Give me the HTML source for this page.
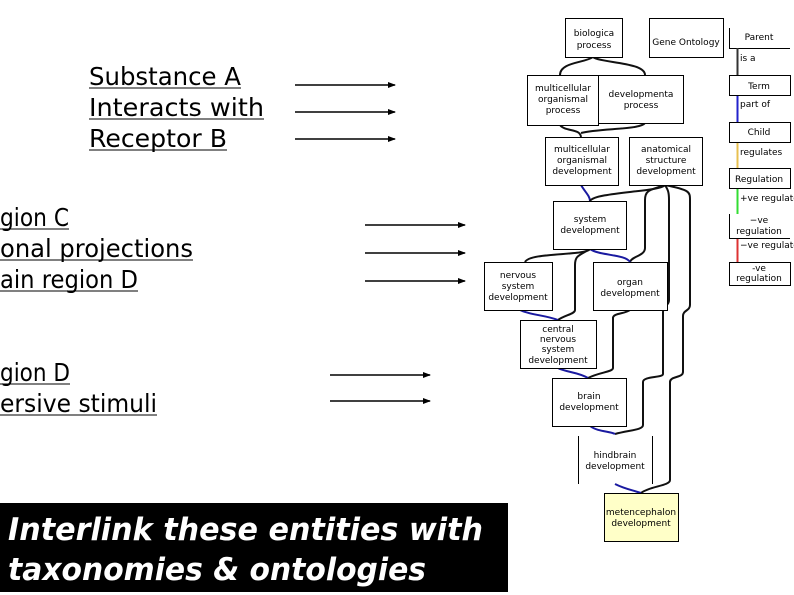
<!DOCTYPE html>
<html><head><meta charset="utf-8"><style>
html,body{margin:0;padding:0;background:#fff;}
svg{display:block;}
.t{font-family:"DejaVu Sans","Liberation Sans",sans-serif;font-size:25px;fill:#000;}
.s{font-family:"DejaVu Sans","Liberation Sans",sans-serif;font-size:9px;fill:#000;text-anchor:middle;}
.l{font-family:"DejaVu Sans","Liberation Sans",sans-serif;font-size:9px;fill:#000;}
.b{fill:#fff;stroke:#000;stroke-width:1;}
.c{fill:none;stroke:#111;stroke-width:2;}
.u{fill:none;stroke:#1a1aa0;stroke-width:2;}
</style></head><body>
<svg width="794" height="595" viewBox="0 0 794 595" xmlns="http://www.w3.org/2000/svg">
<defs><marker id="a" markerWidth="8" markerHeight="8" refX="7" refY="4" orient="auto" markerUnits="userSpaceOnUse"><path d="M0,1 L8,4 L0,7 z" fill="#000"/></marker></defs>
<text class="t" x="89" y="85" textLength="152" lengthAdjust="spacingAndGlyphs">Substance A</text>
<line x1="89" y1="88" x2="241" y2="88" stroke="#000"/>
<text class="t" x="89" y="116" textLength="175" lengthAdjust="spacingAndGlyphs">Interacts with</text>
<line x1="89" y1="119" x2="264" y2="119" stroke="#000"/>
<text class="t" x="89" y="147" textLength="138" lengthAdjust="spacingAndGlyphs">Receptor B</text>
<line x1="89" y1="150" x2="227" y2="150" stroke="#000"/>
<line x1="295" y1="85" x2="395" y2="85" stroke="#000" stroke-width="1.5" marker-end="url(#a)"/>
<line x1="295" y1="112" x2="395" y2="112" stroke="#000" stroke-width="1.5" marker-end="url(#a)"/>
<line x1="295" y1="139" x2="395" y2="139" stroke="#000" stroke-width="1.5" marker-end="url(#a)"/>

<text class="t" x="0" y="226" textLength="69" lengthAdjust="spacingAndGlyphs">gion C</text>
<line x1="0" y1="229" x2="69" y2="229" stroke="#000"/>
<text class="t" x="0" y="257" textLength="193" lengthAdjust="spacingAndGlyphs">onal projections</text>
<line x1="0" y1="260" x2="193" y2="260" stroke="#000"/>
<text class="t" x="0" y="288" textLength="138" lengthAdjust="spacingAndGlyphs">ain region D</text>
<line x1="0" y1="291" x2="138" y2="291" stroke="#000"/>
<line x1="365" y1="225" x2="465" y2="225" stroke="#000" stroke-width="1.5" marker-end="url(#a)"/>
<line x1="365" y1="253" x2="465" y2="253" stroke="#000" stroke-width="1.5" marker-end="url(#a)"/>
<line x1="365" y1="281" x2="465" y2="281" stroke="#000" stroke-width="1.5" marker-end="url(#a)"/>

<text class="t" x="0" y="381" textLength="70" lengthAdjust="spacingAndGlyphs">gion D</text>
<line x1="0" y1="384" x2="70" y2="384" stroke="#000"/>
<text class="t" x="0" y="412" textLength="157" lengthAdjust="spacingAndGlyphs">ersive stimuli</text>
<line x1="0" y1="415" x2="157" y2="415" stroke="#000"/>
<line x1="330" y1="375" x2="430" y2="375" stroke="#000" stroke-width="1.5" marker-end="url(#a)"/>
<line x1="330" y1="401" x2="430" y2="401" stroke="#000" stroke-width="1.5" marker-end="url(#a)"/>

<rect x="0" y="503" width="508" height="89" fill="#000"/>
<text x="8" y="540" fill="#fff" font-family="DejaVu Sans,sans-serif" font-weight="bold" font-style="italic" font-size="31" textLength="475" lengthAdjust="spacingAndGlyphs">Interlink these entities with</text>
<text x="8" y="580" fill="#fff" font-family="DejaVu Sans,sans-serif" font-weight="bold" font-style="italic" font-size="31" textLength="418" lengthAdjust="spacingAndGlyphs">taxonomies &amp; ontologies</text>

<!-- connectors -->
<path class="c" d="M593,57 C585,63 560,62 560,75"/>
<path class="c" d="M593,57 C600,63 645,62 645,75"/>
<path class="c" d="M560,125 C565,132 580,128 581,137"/>
<path class="c" d="M645,123 C640,130 600,128 581,133"/>
<path class="u" d="M581,185 C585,192 590,196 590,201"/>
<path class="c" d="M665,185 C660,192 595,192 590,201"/>
<path class="c" d="M665,185 C650,190 645,190 645,200 L645,248 C645,256 632,256 630,262"/>
<path class="c" d="M665,185 C668,190 669,192 669,200 L669,300 C669,306 663,305 663,312 L663,374 C663,378 643,376 643,382 L643,425 C643,430 630,430 615,434"/>
<path class="c" d="M665,185 C690,190 690,192 690,200 L690,305 C690,311 683,310 683,316 L683,372 C683,378 670,376 670,382 L670,480 C670,486 650,486 641,493"/>
<path class="c" d="M590,249 C585,256 530,252 525,262"/>
<path class="u" d="M590,249 C600,256 625,254 630,262"/>
<path class="c" d="M590,249 C578,256 575,256 575,265 L575,310 C575,314 565,315 558,320"/>
<path class="u" d="M520,310 C530,315 545,315 558,320"/>
<path class="c" d="M630,310 C625,314 613,313 613,318 L613,368 C613,372 600,372 588,378"/>
<path class="u" d="M558,368 C565,372 578,372 588,378"/>
<path class="u" d="M590,426 C598,432 610,431 615,434"/>
<path class="u" d="M615,484 C625,489 632,490 641,493"/>
<!-- boxes -->
<rect class="b" x="565.5" y="18.5" width="57" height="39"/>
<text class="s" x="594" y="36">biologica</text><text class="s" x="594" y="48">process</text>
<rect class="b" x="649.5" y="18.5" width="74" height="39"/>
<text class="s" x="686" y="45">Gene Ontology</text>
<rect class="b" x="527.5" y="75.5" width="71" height="50"/>
<text class="s" x="563" y="91">multicellular</text><text class="s" x="563" y="102">organismal</text><text class="s" x="563" y="113">process</text>
<rect class="b" x="598.5" y="75.5" width="85" height="48"/>
<text class="s" x="641" y="97">developmenta</text><text class="s" x="641" y="108">process</text>
<rect class="b" x="545.5" y="137.5" width="73" height="48"/>
<text class="s" x="582" y="152">multicellular</text><text class="s" x="582" y="163">organismal</text><text class="s" x="582" y="174">development</text>
<rect class="b" x="629.5" y="137.5" width="73" height="48"/>
<text class="s" x="666" y="152">anatomical</text><text class="s" x="666" y="163">structure</text><text class="s" x="666" y="174">development</text>
<rect class="b" x="553.5" y="201.5" width="73" height="48"/>
<text class="s" x="590" y="222">system</text><text class="s" x="590" y="233">development</text>
<rect class="b" x="484.5" y="262.5" width="68" height="48"/>
<text class="s" x="518" y="278">nervous</text><text class="s" x="518" y="289">system</text><text class="s" x="518" y="300">development</text>
<rect class="b" x="593.5" y="262.5" width="74" height="48"/>
<text class="s" x="630" y="285">organ</text><text class="s" x="630" y="296">development</text>
<rect class="b" x="520.5" y="320.5" width="76" height="48"/>
<text class="s" x="558" y="332">central</text><text class="s" x="558" y="342">nervous</text><text class="s" x="558" y="352">system</text><text class="s" x="558" y="363">development</text>
<rect class="b" x="552.5" y="378.5" width="74" height="48"/>
<text class="s" x="589" y="399">brain</text><text class="s" x="589" y="410">development</text>
<line x1="578.5" y1="436" x2="578.5" y2="484" stroke="#000"/>
<line x1="652.5" y1="436" x2="652.5" y2="484" stroke="#000"/>
<text class="s" x="615" y="458">hindbrain</text><text class="s" x="615" y="469">development</text>
<rect x="604.5" y="493.5" width="74" height="48" fill="#ffffc8" stroke="#000"/>
<text class="s" x="641" y="515">metencephalon</text><text class="s" x="641" y="526">development</text>
<!-- legend -->
<path d="M729.5,28 L729.5,48.5 L790,48.5" fill="none" stroke="#000"/>
<text class="s" x="759" y="40">Parent</text>
<line x1="737.5" y1="48" x2="737.5" y2="75" stroke="#333" stroke-width="2"/>
<text class="l" x="740" y="61">is a</text>
<rect class="b" x="729.5" y="75.5" width="61" height="20"/>
<text class="s" x="759" y="89">Term</text>
<line x1="737.5" y1="96" x2="737.5" y2="122" stroke="#22c" stroke-width="2"/>
<text class="l" x="740" y="107">part of</text>
<rect class="b" x="729.5" y="122.5" width="61" height="20"/>
<text class="s" x="759" y="135">Child</text>
<line x1="737.5" y1="143" x2="737.5" y2="168" stroke="#e8c050" stroke-width="2"/>
<text class="l" x="740" y="155">regulates</text>
<rect class="b" x="729.5" y="168.5" width="61" height="20"/>
<text class="s" x="759" y="182">Regulation</text>
<line x1="737.5" y1="189" x2="737.5" y2="214" stroke="#3d3" stroke-width="2"/>
<text class="l" x="740" y="201">+ve regulate</text>
<path d="M729.5,214 L729.5,238.5 L790,238.5" fill="none" stroke="#000"/>
<text class="s" x="759" y="223">−ve</text><text class="s" x="759" y="234">regulation</text>
<line x1="737.5" y1="239" x2="737.5" y2="262" stroke="#d33" stroke-width="2"/>
<text class="l" x="740" y="248">−ve regulate</text>
<rect class="b" x="729.5" y="262.5" width="61" height="23"/>
<text class="s" x="759" y="271">-ve</text><text class="s" x="759" y="281">regulation</text>
</svg>
</body></html>
